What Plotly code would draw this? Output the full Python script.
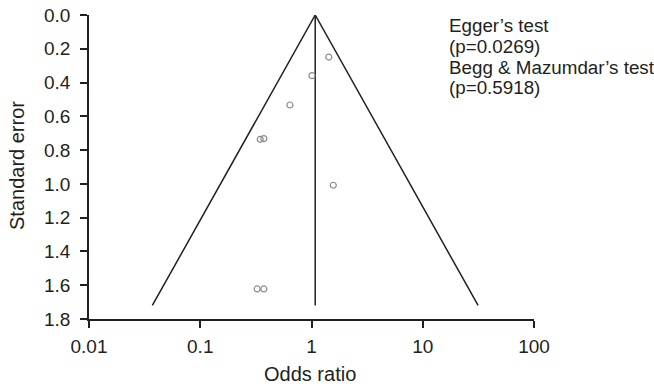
import math
import plotly.graph_objects as go

# Study data
odds_ratio = [1.43, 1.01, 0.64, 0.346, 0.373, 1.57, 0.325, 0.373]
std_error = [0.249, 0.359, 0.533, 0.736, 0.732, 1.008, 1.622, 1.622]

pooled_or = 1.08
se_max = 1.72

y_ticks = [0.0, 0.2, 0.4, 0.6, 0.8, 1.0, 1.2, 1.4, 1.6, 1.8]
y_tick_text = ["0.0", "0.2", "0.4", "0.6", "0.8", "1.0", "1.2", "1.4", "1.6", "1.8"]
x_ticks = [0.01, 0.1, 1, 10, 100]
x_tick_text = ["0.01", "0.1", "1", "10", "100"]

notes = ["Egger\u2019s test", "(p=0.0269)", "Begg & Mazumdar\u2019s test", "(p=0.5918)"]

ink = "#231f20"
FONT = "Liberation Sans, Arial, sans-serif"
FS_TICK = 19
FS_NOTE = 18.8
FS_TITLE = 20

L, R, T, B = 89, 120, 15, 69
W, H = 654, 388
PW, PH = W - L - R, H - T - B

lo = pooled_or * math.exp(-1.96 * se_max)
hi = pooled_or * math.exp(1.96 * se_max)

fig = go.Figure()
fig.add_trace(go.Scatter(x=[lo, pooled_or, hi], y=[se_max, 0, se_max], mode="lines",
                         line=dict(color=ink, width=1.5), hoverinfo="skip"))
fig.add_trace(go.Scatter(x=[pooled_or, pooled_or], y=[0, se_max], mode="lines",
                         line=dict(color=ink, width=1.5), hoverinfo="skip"))
fig.add_trace(go.Scatter(x=odds_ratio, y=std_error, mode="markers",
                         marker=dict(symbol="circle-open", size=6, color="#8a8a8a",
                                     line=dict(width=1.2, color="#8a8a8a"))))

line_px = [25, 46, 67, 88]
for t, py in zip(notes, line_px):
    fig.add_annotation(text=t, xref="paper", yref="paper",
                       x=(447 - L) / PW, y=1 - (py - T) / PH,
                       xanchor="left", yanchor="middle", showarrow=False,
                       font=dict(family=FONT, size=FS_NOTE, color=ink))

# axis titles
fig.add_annotation(text="Odds ratio", xref="paper", yref="paper",
                   x=(310 - L) / PW, y=1 - (374 - T) / PH,
                   xanchor="center", yanchor="middle", showarrow=False,
                   font=dict(family=FONT, size=FS_TITLE, color=ink))
fig.add_annotation(text="Standard error", xref="paper", yref="paper",
                   x=(17 - L) / PW, y=1 - (166 - T) / PH, textangle=-90,
                   xanchor="center", yanchor="middle", showarrow=False,
                   font=dict(family=FONT, size=FS_TITLE, color=ink))

fig.update_layout(
    width=W, height=H,
    margin=dict(l=L, r=R, t=T, b=B, autoexpand=False),
    paper_bgcolor="white", plot_bgcolor="white",
    showlegend=False,
    font=dict(family=FONT, size=FS_TICK, color=ink),
    xaxis=dict(type="log", range=[-2, 2], tickvals=x_ticks, ticktext=x_tick_text,
               showgrid=False, zeroline=False, showline=True, linecolor=ink, linewidth=1.5,
               ticks="outside", ticklen=7, tickwidth=1.5, tickcolor=ink,
               automargin=False, ticklabelstandoff=2),
    yaxis=dict(range=[1.8, 0], tickvals=y_ticks, ticktext=y_tick_text,
               showgrid=False, zeroline=False, showline=True, linecolor=ink, linewidth=1.5,
               ticks="outside", ticklen=7, tickwidth=1.5, tickcolor=ink,
               automargin=False, ticklabelstandoff=6),
)

fig.write_html("out.html", config={"displayModeBar": False},
               post_script="document.body.style.margin='0';document.body.style.overflow='hidden';")
